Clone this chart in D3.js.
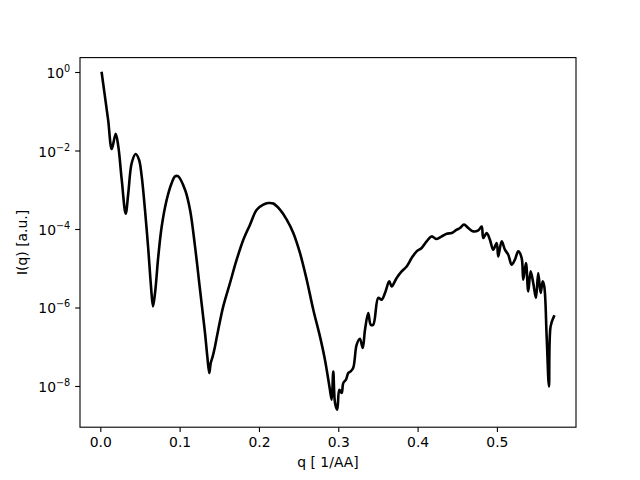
<!DOCTYPE html>
<html>
<head>
<meta charset="utf-8">
<script src="https://cdn.jsdelivr.net/npm/d3@7"></script>
<style>
  body { margin: 0; background: #fff; }
  svg { display: block; }
  text { font-family: "DejaVu Sans", sans-serif; }
</style>
</head>
<body>
<svg id="chart" width="640" height="480"></svg>
<script>
// q values [1/AA]
const qValues = [0.0018,0.0081,0.0101,0.0144,0.0194,0.0227,0.0270,0.0320,0.0353,0.0396,
0.0446,0.0488,0.0522,0.0563,0.0605,0.0639,0.0664,0.0690,0.0731,0.0774,
0.0837,0.0900,0.0942,0.0979,0.1068,0.1131,0.1194,0.1257,0.1320,0.1349,
0.1374,0.1392,0.1417,0.1446,0.1487,0.1550,0.1635,0.1719,0.1803,0.1887,
0.1972,0.2055,0.2118,0.2181,0.2265,0.2350,0.2433,0.2517,0.2602,0.2685,
0.2769,0.2832,0.2895,0.2917,0.2937,0.2959,0.2987,0.3013,0.3043,0.3063,
0.3097,0.3126,0.3156,0.3189,0.3232,0.3273,0.3308,0.3337,0.3378,0.3409,
0.3441,0.3504,0.3547,0.3589,0.3643,0.3673,0.3736,0.3799,0.3862,0.3925,
0.3988,0.4051,0.4114,0.4177,0.4240,0.4304,0.4367,0.4430,0.4493,0.4534,
0.4585,0.4639,0.4702,0.4765,0.4808,0.4828,0.4871,0.4912,0.4954,0.4997,
0.5017,0.5060,0.5101,0.5143,0.5186,0.5227,0.5269,0.5312,0.5332,0.5366,
0.5395,0.5425,0.5458,0.5492,0.5521,0.5551,0.5577,0.5597,0.5627,0.5656,
0.5677,0.5719];
// intensity I(q) [a.u.]
const intensity = [0.943,0.110,0.0551,0.0109,0.0268,0.0127,0.00180,0.000245,0.000826,0.00481,
0.00814,0.00583,0.00219,0.000310,2.97e-5,3.45e-6,1.07e-6,2.34e-6,2.00e-5,0.000116,
0.000557,0.00149,0.00219,0.00221,0.00100,0.000310,3.60e-5,2.84e-6,2.24e-7,5.67e-8,
2.14e-8,3.85e-8,5.67e-8,1.02e-7,2.72e-7,1.07e-6,4.21e-6,1.65e-5,5.33e-5,0.000129,
0.000310,0.000416,0.000459,0.000445,0.000310,0.000173,7.91e-5,2.45e-5,5.11e-6,8.79e-7,
1.84e-7,4.68e-8,8.05e-9,4.48e-9,2.35e-8,3.69e-9,2.49e-9,8.05e-9,6.63e-9,1.19e-8,
1.45e-8,2.14e-8,2.35e-8,2.92e-8,1.13e-7,1.60e-7,9.29e-8,2.72e-7,7.24e-7,3.65e-7,
3.65e-7,1.75e-6,1.58e-6,2.34e-6,4.62e-6,3.45e-6,5.65e-6,8.32e-6,1.11e-5,1.82e-5,
2.69e-5,3.28e-5,4.83e-5,6.47e-5,5.56e-5,6.47e-5,7.59e-5,7.91e-5,9.59e-5,0.000106,
0.000129,0.000106,8.69e-5,9.21e-5,0.000116,5.90e-5,7.91e-5,5.33e-5,2.97e-5,4.40e-5,
2.00e-5,4.83e-5,2.97e-5,2.21e-5,1.23e-5,1.65e-5,2.69e-5,1.82e-5,5.11e-6,1.36e-5,
2.57e-6,8.32e-6,4.21e-6,1.75e-6,7.57e-6,2.34e-6,4.62e-6,3.45e-6,1.84e-7,9.77e-9,
3.30e-7,5.93e-7];
const xTicks = [0.0, 0.1, 0.2, 0.3, 0.4, 0.5];
const xTickLabels = ["0.0", "0.1", "0.2", "0.3", "0.4", "0.5"];
const yTicks = [1, 1e-2, 1e-4, 1e-6, 1e-8];
const yTickExponents = ["0", "\u22122", "\u22124", "\u22126", "\u22128"];
const xLabel = "q [ 1/AA]";
const yLabel = "I(q) [a.u.]";

const data = qValues.map((q, i) => ({ q, I: intensity[i] }));

const W = 640, H = 480;
const m = { left: 80, right: 576, top: 57.6, bottom: 427.2 };
const svg = d3.select("#chart");

const x = d3.scaleLinear().domain([-0.0256, 0.5997]).range([m.left, m.right]);
const y = d3.scaleLog().domain([Math.pow(10, -9.05), Math.pow(10, 0.367)]).range([m.bottom, m.top]);

svg.append("rect").attr("width", W).attr("height", H).attr("fill", "#fff");

svg.append("clipPath").attr("id", "clip").append("rect")
  .attr("x", m.left).attr("y", m.top).attr("width", m.right - m.left).attr("height", m.bottom - m.top);

const line = d3.line().curve(d3.curveCatmullRom.alpha(0.5)).x(d => x(d.q)).y(d => y(d.I));
svg.append("path").datum(data)
  .attr("clip-path", "url(#clip)")
  .attr("d", line)
  .attr("fill", "none")
  .attr("stroke", "#000")
  .attr("stroke-width", 2.6)
  .attr("stroke-linejoin", "round")
  .attr("stroke-linecap", "square");

const tickLen = 4.86, tickPad = 4.86;
const xAxis = d3.axisBottom(x).tickValues(xTicks).tickFormat((d, i) => xTickLabels[i]).tickSizeOuter(0).tickSize(tickLen).tickPadding(tickPad);
const gx = svg.append("g").attr("transform", `translate(0,${m.bottom})`).call(xAxis);
gx.select(".domain").remove();
gx.selectAll(".tick line").attr("stroke", "#000").attr("stroke-width", 1.1);
gx.selectAll(".tick text").attr("font-size", "13.9px").attr("fill", "#000")
  .attr("font-family", "DejaVu Sans").attr("dy", "0.71em");

const yAxis = d3.axisLeft(y).tickValues(yTicks).tickFormat(() => "").tickSizeOuter(0).tickSize(tickLen).tickPadding(tickPad);
const gy = svg.append("g").attr("transform", `translate(${m.left},0)`).call(yAxis);
gy.select(".domain").remove();
gy.selectAll(".tick line").attr("stroke", "#000").attr("stroke-width", 1.1);
gy.selectAll(".tick text").each(function(d, i) {
  const t = d3.select(this).attr("font-family", "DejaVu Sans").attr("fill", "#000")
    .attr("x", -(tickLen + tickPad)).attr("dy", null).attr("y", 5.5).attr("text-anchor", "end");
  t.append("tspan").attr("font-size", "13.9px").text("10");
  t.append("tspan").attr("font-size", "9.7px").attr("dy", "-6").text(yTickExponents[i]);
});

svg.append("rect").attr("x", m.left).attr("y", m.top)
  .attr("width", m.right - m.left).attr("height", m.bottom - m.top)
  .attr("fill", "none").attr("stroke", "#000").attr("stroke-width", 1.1);

svg.append("text").attr("x", (m.left + m.right) / 2).attr("y", 467)
  .attr("text-anchor", "middle").attr("font-size", "13.9px").attr("fill", "#000").text(xLabel);
svg.append("text").attr("transform", `translate(27,${(m.top + m.bottom) / 2}) rotate(-90)`)
  .attr("text-anchor", "middle").attr("font-size", "13.9px").attr("fill", "#000").text(yLabel);
</script>
</body>
</html>
